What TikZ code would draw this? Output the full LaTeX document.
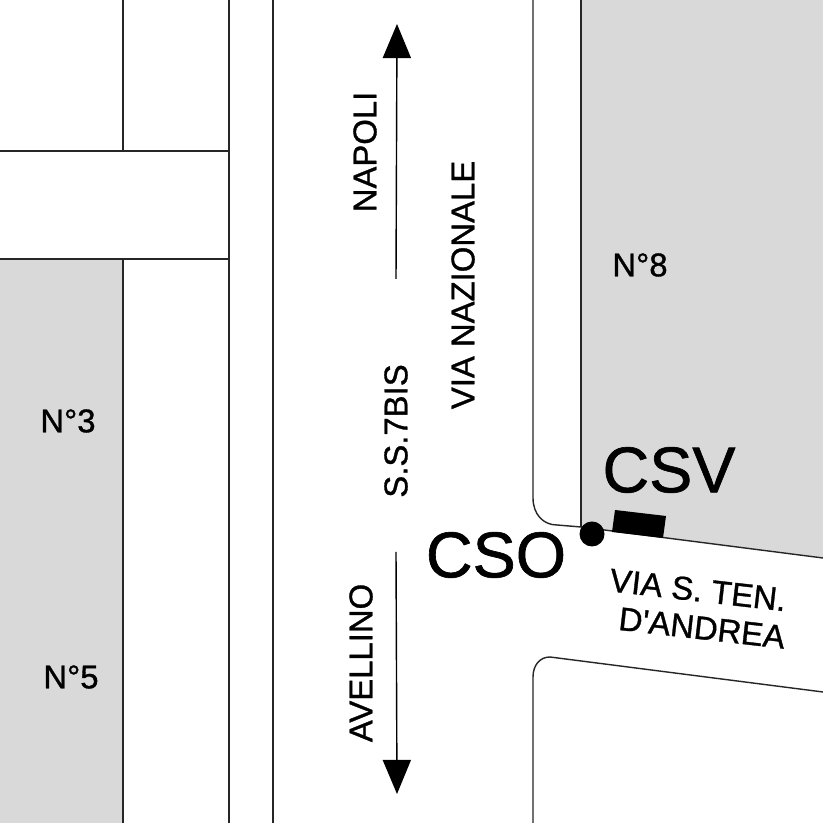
\documentclass[tikz,border=0pt]{standalone}
\usepackage{fontspec}
\setmainfont{Liberation Sans}
\newfontfamily\grassetto[FakeBold=1]{Liberation Sans}
\usetikzlibrary{arrows.meta}
\definecolor{isolato}{RGB}{217,217,217}
\tikzset{
	strada/.style={draw=black!85, thin},
	nome/.style={inner sep=0pt, font=\grassetto\fontsize{9.35pt}{11pt}\selectfont},
	sigla/.style={inner sep=0pt, font=\grassetto\fontsize{18.4pt}{22pt}\selectfont},
	freccia/.style={black, thin, -{Triangle[width=8pt,length=9.7pt]}}
}

\begin{document}
\begin{tikzpicture}

	\def\CurvaA{(5.33,8.23) -- (5.33,3.25) .. controls (5.33,3.09) and (5.43,2.98) .. (5.57,2.98) -- (5.81,2.96) -- (8.23,2.65)}
	\def\CurvaB{(5.33,0) -- (5.33,1.46) .. controls (5.33,1.58) and (5.40,1.66) .. (5.50,1.66) -- (8.23,1.31)}

	\fill[white] (0,0) rectangle (8.23,8.23);
	\useasboundingbox (0,0) rectangle (8.23,8.23);

	% isolati grigi
	\fill[isolato] (0,0) rectangle (1.23,5.64);
	\fill[isolato] (5.81,8.23) -- (8.23,8.23) -- (8.23,2.65) -- (5.81,2.96) -- cycle;

	% strade a sinistra
	\draw[strada] (1.23,8.23) -- (1.23,6.72);
	\draw[strada] (0,6.72) -- (2.29,6.72);
	\draw[strada] (0,5.64) -- (2.29,5.64);
	\draw[strada] (1.23,5.64) -- (1.23,0);
	\draw[strada] (2.29,8.23) -- (2.29,0);
	\draw[strada] (2.73,8.23) -- (2.73,0);

	% strade a destra
	\draw[strada] \CurvaA;
	\draw[strada] \CurvaB;
	\draw[strada] (5.81,8.23) -- (5.81,2.96);

	% frecce
	\coordinate (napoliA) at (3.96,5.44);
	\coordinate (napoliB) at (3.97,7.99);
	\coordinate (avellinoA) at (3.96,2.71);
	\coordinate (avellinoB) at (3.97,0.29);
	\draw[freccia] (napoliA) -- (napoliB);
	\draw[freccia] (avellinoA) -- (avellinoB);

	% CSO e CSV
	\fill[black] (5.92,2.89) circle (0.125);
	\fill[black] (6.15,3.13) -- (6.66,3.07) -- (6.63,2.85) -- (6.12,2.91) -- cycle;

	\node[nome, rotate=90] (napoli) at (3.65,6.71) {NAPOLI};
	\node[nome, rotate=90] (nazionale) at (4.63,5.38) {VIA NAZIONALE};
	\node[nome, rotate=90] (statale) at (3.96,3.92) {S.S.7BIS};
	\node[nome, rotate=90] (avellino) at (3.61,1.60) {AVELLINO};
	\node[nome] (n3) at (0.68,4.02) {N°3};
	\node[nome] (n5) at (0.71,1.46) {N°5};
	\node[nome] (n8) at (6.40,5.58) {N°8};
	\node[sigla] (csv) at (6.69,3.53) {CSV};
	\node[sigla] (cso) at (4.96,2.68) {CSO};
	\node[nome, rotate=-6.5] (ten) at (6.98,2.33) {VIA S. TEN.};
	\node[nome, rotate=-6.5] (andrea) at (7.02,1.95) {D'ANDREA};

\end{tikzpicture}
\end{document}
